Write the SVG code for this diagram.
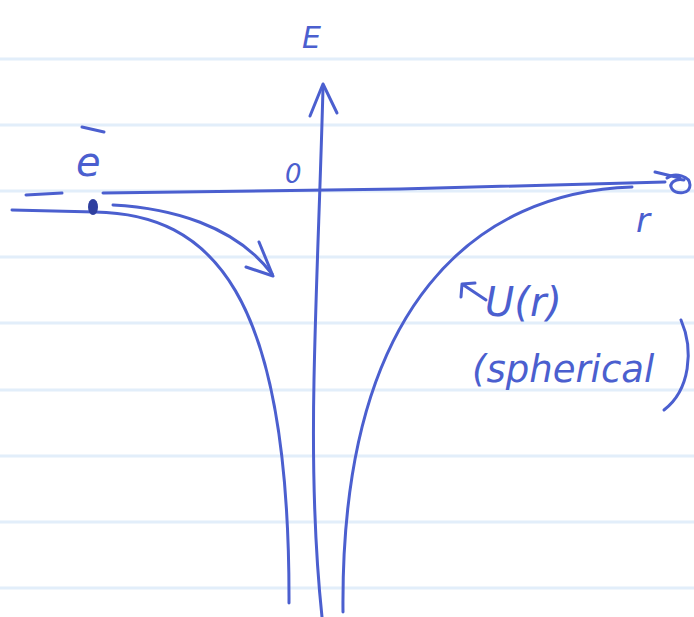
<svg xmlns="http://www.w3.org/2000/svg" width="694" height="617" viewBox="0 0 694 617">
<style>
.rule{stroke:#e2eefa;stroke-width:3;fill:none}
.pen{stroke:#4b5fcf;stroke-width:3;fill:none;stroke-linecap:round;stroke-linejoin:round}
.txt{fill:#4b5fcf;font-family:"DejaVu Sans","Liberation Sans",sans-serif;font-style:oblique}
</style>
<rect width="694" height="617" fill="#ffffff"/>
<g id="paper">
<line class="rule" x1="0" y1="59" x2="694" y2="59"/>
<line class="rule" x1="0" y1="125" x2="694" y2="125"/>
<line class="rule" x1="0" y1="191" x2="694" y2="191"/>
<line class="rule" x1="0" y1="257" x2="694" y2="257"/>
<line class="rule" x1="0" y1="323" x2="694" y2="323"/>
<line class="rule" x1="0" y1="390" x2="694" y2="390"/>
<line class="rule" x1="0" y1="456" x2="694" y2="456"/>
<line class="rule" x1="0" y1="522" x2="694" y2="522"/>
<line class="rule" x1="0" y1="588" x2="694" y2="588"/>
</g>
<g id="connectors">
<!-- E axis -->
<path id="e-axis" class="pen" d="M322 617 C316 560 312 480 314 380 C316 280 320 200 323 88"/>
<path class="pen" d="M310 116 L323 84 L337 113"/>
<!-- r axis (E=0) -->
<path id="r-axis" class="pen" d="M103 193 L400 189 L665 182"/>
<path class="pen" d="M26 195 L62 193"/>
<!-- potential U(r), left branch -->
<path id="u-left" class="pen" d="M12 210 L95 212 C210 214 290 290 289 603"/>
<!-- potential U(r), right branch -->
<path id="u-right" class="pen" d="M632 187 C480 192 340 300 343 612"/>
<!-- trajectory arrow -->
<path class="pen" d="M113 205 C170 208 235 225 272 274"/>
<path class="pen" d="M259 242 L273 276 L246 267"/>
<!-- U(r) pointer -->
<path class="pen" d="M486 300 L462 284 M462 284 L461 297 M462 284 L475 283"/>
</g>
<g id="electron">
<ellipse cx="93" cy="207" rx="5" ry="8" fill="#2f3f9f"/>
<text class="txt" x="76" y="176" font-size="40">e</text>
<path class="pen" d="M82 127 L104 132"/>
</g>
<g id="labels">
<text class="txt" x="302" y="48" font-size="30">E</text>
<text class="txt" x="285" y="183" font-size="26">0</text>
<g id="r-end">
<path class="pen" d="M667 178 C675 172 690 176 690 185 C690 194 677 195 672 189 C668 183 676 178 684 180"/>
<path class="pen" d="M655 172 L680 178"/>
</g>
<text class="txt" x="636" y="232" font-size="34">r</text>
<text class="txt" x="485" y="316" font-size="40">U(r)</text>
<text class="txt" x="472" y="382" font-size="37">(spherical</text>
<path class="pen" d="M681 320 C694 350 690 390 664 410"/>
</g>
</svg>
